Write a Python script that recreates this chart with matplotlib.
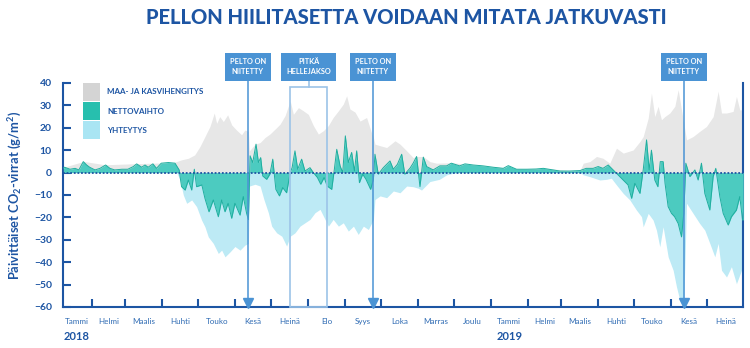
import matplotlib
matplotlib.use("Agg")
import matplotlib.pyplot as plt
from matplotlib.patches import Rectangle
import numpy as np

# days counted from 2018-01-01
# respiration (maa- ja kasvihengitys), positive
resp_day = [8, 24, 42, 68, 89, 100, 106, 111.7, 117, 121.4, 125.6, 129.8, 133.4, 135.4, 138, 141,
            144.6, 148, 152, 156.3, 159, 162, 162.8, 167.6, 171.8, 176, 180, 184.3, 188.5, 192.7,
            197, 199.7, 203.9, 208, 212.2, 216.4, 220.6, 224.8, 229, 233, 237.4, 241.5, 244.3, 247,
            251.3, 255.5, 261, 265, 266.7, 268, 272.3, 277.8, 284.8, 289, 294.6, 300, 302.9, 308.5,
            314, 319.6, 332, 350, 367, 386, 409, 431, 440, 442.5, 448, 453.6, 459, 464.7, 470.3,
            476, 484.3, 490, 492.7, 496.9, 499.6, 502.4, 505.2, 508, 510.8, 515, 519.2, 522, 524.8,
            526.7, 529, 534.5, 540, 545.7, 551.3, 555.5, 558.3, 562.5, 568, 570.8, 573.6, 576.5]
resp_val = [2.5, 5.0, 3.5, 4.0, 4.3, 4.6, 5.7, 6.4, 7.9, 11.6, 16.1, 20.6, 26.6, 22, 25, 22.8,
            25.8, 21.3, 19, 16.9, 19, 18.4, 9.7, 12.7, 13.4, 15.7, 17.2, 19.4, 21.6, 25.4,
            32, 26, 29, 27.6, 26, 21, 17.2, 18.7, 21, 24.6, 27.6, 30.6, 34.3, 28.4,
            27, 23, 24.6, 18, 15.7, 12.7, 12, 11.2, 14.2, 12.7, 9.7, 6.7, 7.2, 7.2,
            4.9, 4.2, 4.4, 3.6, 2.6, 1.7, 2.0, 0.9, 1.2, 4.2, 4.9, 7.2, 6.4, 4.2, 10.9,
            8.7, 10.1, 13.9, 16.1, 24.3, 35.5, 25, 29.6, 23.6, 25, 26.6, 29.6, 37, 28,
            22, 14.6, 16.1, 18.4, 20.6, 25, 36.3, 26.6, 26.6, 27.3, 34, 28, 28]

# photosynthesis (yhteytys), negative
gpp_day = [8, 102, 104.7, 107.5, 110.3, 114.5, 118.6, 122.8, 125.6, 128.4, 132.6, 136.8, 139.6,
           142.4, 146.6, 150.7, 155, 159, 162, 162.8, 167.6, 171.8, 175, 178.7, 181.5, 185.7, 190,
           194, 197, 201, 205.2, 209.4, 213.6, 217.8, 222, 226.2, 229, 233, 237.4, 241.5, 245.7,
           250, 254, 258.3, 262.5, 266.7, 268, 272.3, 277.8, 283.4, 289, 294.6, 300, 304.4, 307,
           314, 322, 328, 336, 440, 442.5, 448, 456.4, 462, 466, 470.3, 476, 481.5, 487, 491.3,
           492.7, 496.9, 501, 503.8, 506.6, 509.4, 513.6, 517.8, 520.6, 523.4, 526.7, 529, 534.5,
           540, 544.3, 548.5, 552.7, 555.5, 558.3, 562.5, 566.6, 570.8, 575, 576.5]
gpp_val = [0, 0, -3.3, -10, -13.7, -12.2, -15.2, -21.2, -24.2, -28.7, -31.6, -36.1, -34.6,
           -37.6, -35.4, -33, -34.6, -32.4, -31.6, -6, -5.2, -6, -12, -17.9, -23.9, -26.9, -28.4,
           -32.8, -28.4, -26.9, -23.9, -22.4, -20.9, -17.9, -16.4, -20.9, -23.9, -20.9, -23.9, -22.4, -26.1,
           -23.9, -27.6, -23.9, -25.4, -20.9, -12, -10.4, -11.2, -8.2, -9, -6, -6.3, -7.0, -7.8,
           -4, -3, -1, 0, 0, -1, -1.8, -3.3, -3, -2.5, -5.5, -9.3, -12.2, -16.7, -19.7,
           -24.2, -18.2, -21.2, -25.7, -33.1, -24.2, -37.6, -43.6, -51, -57, -58.5, -13.7, -18.2,
           -22.7, -25.7, -31.6, -37.6, -31.6, -43.6, -46.6, -42, -49.6, -43.6, -45]

# net exchange (nettovaihto)
nee_day = [7, 8, 12.6, 16.8, 20, 23.7, 26.5, 29, 33.5, 37.7, 42.4, 46, 50, 56, 61, 65.6, 68.4,
           72.6, 75.4, 78, 82, 85, 89, 95, 100.5, 104, 106, 109, 111.7, 114.5, 116.7, 118.6, 123,
           125.6, 129, 132.6, 136.8, 139.6, 142.4, 145, 148, 150.7, 155, 157.7, 160.5, 162, 163.4,
           165.6, 168.4, 170.4, 172.3, 174, 177.3, 180, 182.4, 185, 188, 190.7, 194, 197, 198.6,
           201, 203.3, 206.6, 209.4, 213.6, 216.4, 219.8, 222.6, 225.4, 228, 231.8, 234, 236,
           238.8, 241, 243.2, 245.7, 248.5, 250.8, 252.7, 255, 257.7, 260.5, 264.4, 266.7, 268,
           270.8, 275, 280.6, 283.4, 286.8, 290.4, 293, 297.4, 300, 302.9, 305.7, 308.5, 311.3,
           316.8, 322.4, 328, 332, 339, 343.4, 350.3, 358.7, 367, 375.5, 379.7, 386.6, 395, 403,
           409, 417.3, 423, 431, 439.7, 445, 450.8, 455, 459, 463.4, 467.5, 471.7, 476, 480, 483,
           485.7, 490, 492.7, 495.5, 497.7, 499.6, 502.4, 505, 507, 509.4, 511, 513.6, 516.4, 519,
           522, 524.8, 526.7, 528.4, 531.8, 536, 538.7, 541.5, 544.3, 548.5, 551.3, 553.5, 556.9,
           559.7, 563.9, 566.6, 570.8, 573.6, 575.9, 576.5]
nee_val = [2.0, 2.4, 1.5, 1.9, 1.2, 4.9, 3.4, 2.4, 1.2, 1.9, 3.4, 1.9, 1.2, 1.5, 1.5, 2.7, 3.9,
           2.4, 3.4, 2.4, 3.9, 1.9, 4.2, 4.5, 4.2, 1.2, -6.3, -7.8, -3.3, -7.8, 1.5, -6.3, -5.5,
           -11.5, -17.5, -12.2, -19.7, -12.2, -17.5, -13.7, -20.4, -13.7, -19, -10.7, -18.2, -21, 7.5,
           4.5, 12.7, 4.5, 6.7, -1.5, -3, -0.7, 6, -7.5, -10.4, -6.7, -9, 0, 2.2,
           9.7, 1.5, 6, 0.7, 2.2, 0, -2.2, -5.2, -2.2, -6, -7.5, 1.5, 10.4,
           3, 0, 16.4, 4.5, 9, 0.7, 9.7, -4.5, -0.7, -3, -7.5, -3, 8.2,
           -0.7, 2.2, 5.2, 1.5, 3.7, 8.2, -0.7, 2, 4.2, 7.2, -6.3, 6.9, 2.7,
           1.2, 3, 3, 4.2, 3, 3.9, 3.4, 3, 2.4, 1.9, 3.1, 1.5, 1.5, 1.6,
           1.9, 1.2, 0.7, 0.7, 0.9, 1.9, 1.9, 2.7, 1.9, 3.4, 1.2, -1, -3.3, -5.5, -11.5,
           -4.8, -9.3, 1.2, 14.6, 1.2, 10, -3.3, -6.3, 4.9, 4.9, -4.8, -15.2, -18.2, -19.7,
           -22.7, -28.7, -18.2, 4.2, -1.8, 1.2, -3.3, 4.2, -9.3, -16.7, -1.8, 1.9, -10.7,
           -18.2, -23.4, -19.7, -16.7, -10.7, -21.2, -21]

month_names = ["Tammi", "Helmi", "Maalis", "Huhti", "Touko", "Kesä", "Heinä", "Elo", "Syys",
               "Loka", "Marras", "Joulu", "Tammi", "Helmi", "Maalis", "Huhti", "Touko", "Kesä", "Heinä"]
month_start = [0, 31, 59, 90, 120, 151, 181, 212, 243, 273, 304, 334, 365, 396, 424, 455, 485,
               516, 546, 577]
cut_days = [161.6, 266.3, 526.8]
heat_start, heat_end = 197, 228

BLUE = "#1d55a3"
EVENT = "#4a93d4"
TEAL = "#4ccbc0"
TEAL_LINE = "#1fae9f"
CYAN = "#bdeaf5"
GRAY = "#e7e7e7"
FONT = "Lato"

plt.rcParams["font.family"] = [FONT, "DejaVu Sans"]
plt.rcParams["mathtext.fontset"] = "custom"
plt.rcParams["mathtext.rm"] = FONT + ":bold"
plt.rcParams["mathtext.bf"] = FONT + ":bold"

W, H = 750, 348
fig = plt.figure(figsize=(W / 100, H / 100), dpi=100)
ax = fig.add_axes([63 / W, 1 - 307 / H, 680 / W, 224 / H])


def fpx(x, y):
    return x / W, 1 - y / H


ax.fill_between(resp_day, 0, resp_val, color=GRAY, lw=0, zorder=1)
ax.fill_between(gpp_day, 0, gpp_val, color=CYAN, lw=0, zorder=2)
ax.fill_between(nee_day, 0, nee_val, color=TEAL, lw=0, zorder=3)
ax.plot(nee_day, nee_val, color=TEAL_LINE, lw=0.7, zorder=3)
ax.axhline(0, color=BLUE, lw=1.3, ls=(0, (1, 1)), zorder=4)

ax.set_xlim(6.7, 576.3)
ax.set_ylim(-60, 40)

box_style = dict(boxstyle="square,pad=0.7", fc=EVENT, ec="none")
# events
for d in cut_days:
    ax.plot([d, d], [-60, 42.3], color=EVENT, lw=1.1, zorder=5, clip_on=False)
    ax.plot(d, -58.3, marker="v", ms=7, color=EVENT, mec=EVENT, zorder=6, clip_on=False)
    ax.text(d, 47.2, "PELTO ON\nNIITETTY", ha="center", va="center", fontsize=5.3,
            fontweight="bold", color="white", linespacing=1.5, zorder=7, clip_on=False,
            bbox=box_style)
ax.add_patch(Rectangle((heat_start, -60), heat_end - heat_start, 98.3, fill=False,
                       ec="#9cc4e8", lw=1.2, zorder=5, clip_on=False))
mid = (heat_start + heat_end) / 2
ax.plot([mid, mid], [38.3, 42.3], color="#9cc4e8", lw=1.2, clip_on=False)
ax.text(mid, 47.2, "PITKÄ\nHELLEJAKSO", ha="center", va="center", fontsize=5.3,
        fontweight="bold", color="white", linespacing=1.5, zorder=7, clip_on=False,
        bbox=box_style)

# axes styling
ax.spines["top"].set_visible(False)
for s in ["left", "bottom", "right"]:
    ax.spines[s].set_color(BLUE)
    ax.spines[s].set_linewidth(1.5)
ax.set_yticks(range(-60, 41, 10))
ax.tick_params(axis="y", direction="in", length=6, width=1.5, color=BLUE, labelcolor=BLUE,
               labelsize=7.5, pad=8)
for t in ax.get_yticklabels():
    t.set_fontweight("bold")
ax.set_xticks(month_start[1:-1])
ax.set_xticklabels([])
ax.tick_params(axis="x", direction="in", length=6, width=1.5, color=BLUE)
centers = [(a + b) / 2 for a, b in zip(month_start[:-1], month_start[1:])]
centers[0] = 18
ax.set_xticks(centers, minor=True)
ax.set_xticklabels(month_names, minor=True, fontsize=5.8, color="#2d6ab3")
ax.tick_params(axis="x", which="minor", length=0, pad=8)

ax.text(centers[0], -73, "2018", ha="center", va="center", fontsize=8, fontweight="bold",
        color=BLUE, clip_on=False)
ax.text(centers[12], -73, "2019", ha="center", va="center", fontsize=8, fontweight="bold",
        color=BLUE, clip_on=False)

fig.text(*fpx(15, 195), "Päivittäiset CO$_{2}$-virrat (g/m$^{2}$)", rotation=90,
         ha="center", va="center", fontsize=9.3, fontweight="bold", color=BLUE)
fig.text(*fpx(406, 18), "PELLON HIILITASETTA VOIDAAN MITATA JATKUVASTI", ha="center",
         va="center", fontsize=14.5, fontweight="black", color=BLUE)

# legend
leg = [("MAA- JA KASVIHENGITYS", "#d4d4d4", 83), ("NETTOVAIHTO", "#27bfae", 102),
       ("YHTEYTYS", "#a9e5f3", 121)]
for label, col, top in leg:
    x0, y0 = fpx(83, top + 18)
    fig.add_artist(Rectangle((x0, y0), 17 / W, 18 / H, transform=fig.transFigure,
                             fc=col, ec="none"))
    fig.text(*fpx(107, top + 9), label, ha="left", va="center", fontsize=5.8,
             fontweight="bold", color=BLUE)

fig.savefig("out.png", dpi=100)
